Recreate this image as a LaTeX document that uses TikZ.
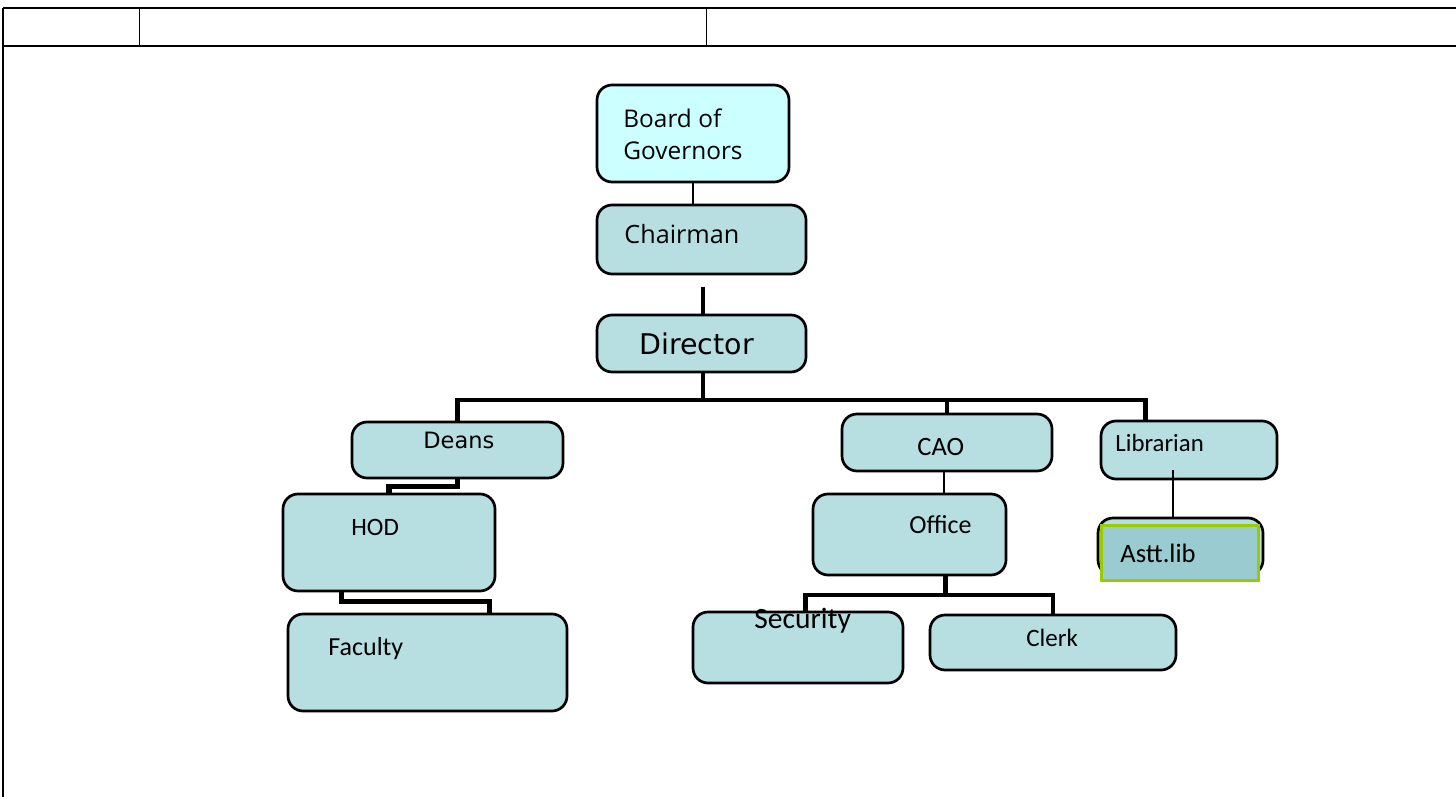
\documentclass[tikz,border=0pt]{standalone}
\usepackage{fontspec}
\setmainfont{Carlito}
\newfontfamily\osans{Open Sans}
\newfontfamily\dejav{DejaVu Sans}
\usetikzlibrary{fit,calc}
\definecolor{boxfill}{RGB}{183,222,225}
\definecolor{bogfill}{RGB}{204,255,255}
\definecolor{asttfill}{RGB}{154,203,209}
\definecolor{asttline}{RGB}{153,204,0}
\tikzset{
  orgbox/.style={draw=black, line width=1.35pt, rounded corners=7.5pt, fill=boxfill, inner sep=0pt},
  lbl/.style={anchor=base west, inner sep=0pt, text=black},
  conn/.style={draw=black, line width=2.3pt},
  thinconn/.style={draw=black, line width=1pt},
  tabline/.style={draw=black, line width=0.7pt}
}
\begin{document}
\begin{tikzpicture}[x=0.5pt,y=-0.5pt]
\useasboundingbox (0,0) rectangle (1456,797);
% table frame
\draw[tabline] (3,8) -- (1456,8);
\draw[tabline, line width=1pt] (3,46) -- (1456,46);
\draw[tabline, line width=0.5pt] (139,8) -- (139,46);
\draw[tabline, line width=0.5pt] (706,8) -- (706,46);
\draw[tabline] (3,8) -- (3,797);
% boxes
\node[orgbox, fill=bogfill, fit={(597,85) (789,182)}] (bog) {};
\node[orgbox, fit={(597,205) (806,274)}] (chair) {};
\node[orgbox, fit={(597,315) (806,372)}] (dir) {};
\node[orgbox, fit={(352,422) (563,478)}] (deans) {};
\node[orgbox, fit={(283,494) (495,591)}] (hod) {};
\node[orgbox, fit={(288,614) (567,711)}] (fac) {};
\node[orgbox, fit={(842,414) (1052,471)}] (cao) {};
\node[orgbox, fit={(813,494) (1006,575)}] (office) {};
\node[orgbox, fit={(693,612) (903,683)}] (sec) {};
\node[orgbox, fit={(930,615) (1176,670)}] (clerk) {};
\node[orgbox, fit={(1101,421) (1277,479)}] (lib) {};
\node[orgbox, fit={(1098,518) (1263,575)}] (asttback) {};
\node[draw=asttline, line width=1.5pt, fill=asttfill, inner sep=0pt, fit={(1101,525) (1258,580)}] (astt) {};
% labels
\node[lbl, font=\osans\fontsize{12.2pt}{14pt}\selectfont] (tb1) at (623,127) {Board of};
\node[lbl, font=\osans\fontsize{12.2pt}{14pt}\selectfont] (tb2) at (623,159) {Governors};
\node[lbl, font=\osans\fontsize{12.6pt}{14pt}\selectfont] (tchair) at (624,243) {Chairman};
\node[lbl, font=\dejav\fontsize{14.25pt}{16pt}\selectfont] (tdir) at (639,354) {Director};
\node[lbl, font=\dejav\fontsize{11.25pt}{13pt}\selectfont] (tdeans) at (423,448) {Deans};
\node[lbl, font=\fontsize{12.5pt}{14pt}\selectfont] (thod) at (351,535) {HOD};
\node[lbl, font=\fontsize{13pt}{15pt}\selectfont] (tfac) at (328,655) {Faculty};
\node[lbl, font=\fontsize{13.25pt}{15pt}\selectfont] (tcao) at (917,455) {CAO};
\node[lbl, font=\fontsize{13pt}{15pt}\selectfont] (toff) at (909,533) {Office};
\node[lbl, font=\fontsize{14.75pt}{17pt}\selectfont] (tsec) at (754,628) {Security};
\node[lbl, font=\fontsize{12.5pt}{14pt}\selectfont] (tclerk) at (1026,646) {Clerk};
\node[lbl, font=\fontsize{12.4pt}{14pt}\selectfont] (tlib) at (1115,451) {Librarian};
\node[lbl, font=\fontsize{13.3pt}{15pt}\selectfont] (tastt) at (1120,562) {Astt.lib};
% connectors
\draw[thinconn] (bog.south) -- (bog.south |- chair.north);
\draw[conn] ($(dir.north)+(1.5,-27)$) -- ($(dir.north)+(1.5,0)$);
\coordinate (busy) at (0,400);
\coordinate (libin) at ($(lib.north west)+(46,0)$);
\draw[conn] ($(dir.south)+(1.5,0)$) -- ($(dir.south |- busy)+(1.5,0)$);
\draw[conn] (deans.north) -- (deans.north |- busy) -- (libin |- busy) -- (libin);
\draw[conn] (cao.north) -- (cao.north |- busy);
\draw[conn, line width=2.6pt] (deans.south) -- ++(0,7) -| (hod.north);
\draw[conn, line width=2.6pt] ($(hod.south west)+(60,0)$) -- ++(0,9) -| ($(fac.north west)+(203,0)$);
\draw[thinconn] ($(cao.south)+(-3,0)$) coordinate (cs) -- (cs |- office.north);
\coordinate (obus) at (0,595);
\draw[conn] ($(office.south west)+(134,0)$) coordinate (os) -- (os |- obus);
\draw[conn] ($(sec.north west)+(114,0)$) coordinate (ss) -- (ss |- obus) -- (clerk.north |- obus) -- (clerk.north);
\draw[thinconn] ($(lib.south west)+(73,-10)$) coordinate (la) -- (la |- asttback.north);
\end{tikzpicture}
\end{document}
